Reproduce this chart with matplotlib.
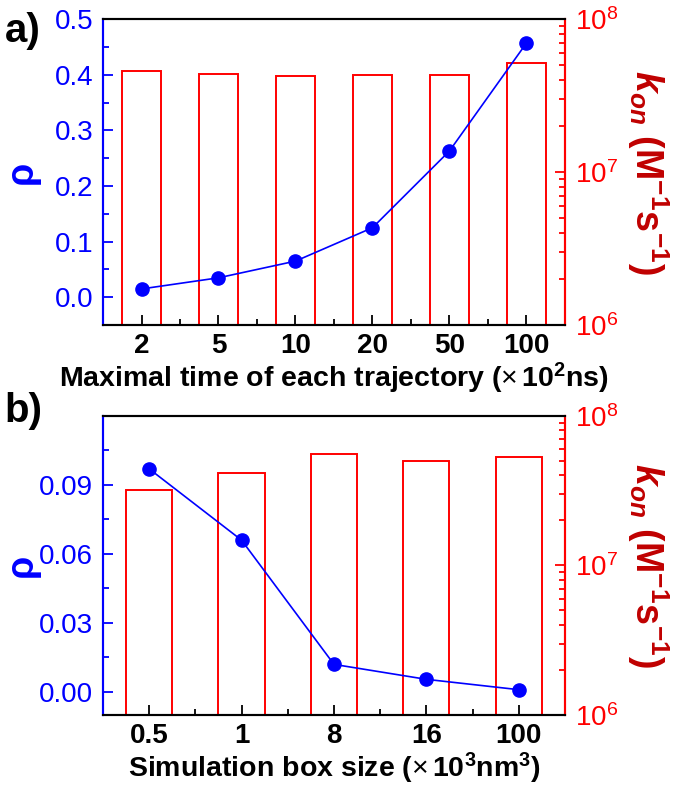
import numpy as np
import matplotlib
matplotlib.use("Agg")
import matplotlib.pyplot as plt
from matplotlib.ticker import MultipleLocator, LogLocator, NullFormatter

plt.rcParams['font.family'] = ['Liberation Sans', 'DejaVu Sans']
plt.rcParams['mathtext.fontset'] = 'custom'
plt.rcParams['mathtext.rm'] = 'Liberation Sans'
plt.rcParams['mathtext.it'] = 'Liberation Sans:italic'
plt.rcParams['mathtext.bf'] = 'Liberation Sans:bold'
plt.rcParams['mathtext.bfit'] = 'Liberation Sans:bold:italic'

BLUE = '#0000FF'
RED = '#FF0000'
DARKRED = '#C00000'

# Panel a: maximal time of each trajectory (x10^2 ns)
time_labels = ['2', '5', '10', '20', '50', '100']
time_p = [0.015, 0.035, 0.065, 0.125, 0.263, 0.457]
time_kon = [4.6e7, 4.38e7, 4.25e7, 4.3e7, 4.3e7, 5.14e7]

# Panel b: simulation box size (x10^3 nm^3)
box_labels = ['0.5', '1', '8', '16', '100']
box_p = [0.097, 0.066, 0.012, 0.0055, 0.001]
box_kon = [3.18e7, 4.15e7, 5.58e7, 5.0e7, 5.33e7]

KON_LABEL = r'$\mathbfit{k}_{\mathbfit{on}}$ (M$^{\mathbf{-1}}$s$^{\mathbf{-1}}$)'


def draw_panel(ax, labels, p, kon, ylim, major, minor, fmt, label_max, xlabel):
    x = np.arange(len(labels))
    ax2 = ax.twinx()
    ax.set_zorder(ax2.get_zorder() + 1)
    ax.patch.set_visible(False)

    # bars on log right axis
    ax2.set_yscale('log')
    ax2.bar(x, np.array(kon) - 1e6, bottom=1e6, width=0.5, facecolor='none',
            edgecolor=RED, linewidth=1.4)
    ax2.set_ylim(1e6, 1e8)
    ax2.yaxis.set_major_locator(LogLocator(base=10, numticks=5))
    ax2.yaxis.set_minor_locator(LogLocator(base=10, subs=np.arange(2, 10), numticks=5))
    ax2.yaxis.set_minor_formatter(NullFormatter())
    ax2.tick_params(axis='y', which='both', direction='in', colors=RED,
                    labelsize=20, width=1.3, pad=7)
    ax2.tick_params(axis='y', which='major', length=7)
    ax2.tick_params(axis='y', which='minor', length=4)
    ax2.set_ylabel(KON_LABEL, color=DARKRED, fontsize=27, fontweight='bold',
                   rotation=270, va='center')
    ax2.yaxis.set_label_coords(1.18, 0.5)

    # p line on left axis
    ax.plot(x, p, color=BLUE, linewidth=1.2, marker='o', markersize=9.5,
            markerfacecolor=BLUE, markeredgecolor=BLUE)
    ax.set_ylim(*ylim)
    ax.set_xlim(-0.5, len(labels) - 0.5)
    ax.yaxis.set_major_locator(MultipleLocator(major))
    ax.yaxis.set_minor_locator(MultipleLocator(minor))
    ax.yaxis.set_major_formatter(plt.FuncFormatter(
        lambda v, _: fmt.format(v) if v <= label_max + 1e-9 else ''))
    ax.tick_params(axis='y', which='both', direction='in', colors=BLUE,
                   labelsize=20, width=1.3, pad=7)
    ax.tick_params(axis='y', which='major', length=7)
    ax.tick_params(axis='y', which='minor', length=4)
    ax.set_ylabel('ρ', color=BLUE, fontsize=27, fontweight='bold', va='center')
    ax.yaxis.set_label_coords(-0.176, 0.5)

    ax.set_xticks(x)
    ax.set_xticklabels(labels, fontweight='bold', fontsize=20)
    ax.set_xticks(x[:-1] + 0.5, minor=True)
    ax.tick_params(axis='x', which='both', direction='in', width=1.3, pad=6)
    ax.tick_params(axis='x', which='major', length=7)
    ax.tick_params(axis='x', which='minor', length=4)
    ax.set_xlabel(xlabel, fontsize=20.5, fontweight='bold', labelpad=1)

    for a in (ax, ax2):
        for s in a.spines.values():
            s.set_linewidth(1.5)
        a.spines['left'].set_color(BLUE)
        a.spines['right'].set_color(RED)
        a.spines['top'].set_color('black')
        a.spines['bottom'].set_color('black')


fig = plt.figure(figsize=(6.75, 7.91), dpi=100)
ax_a = fig.add_axes([0.1526, 0.589, 0.6844, 0.3869])
ax_b = fig.add_axes([0.1526, 0.0961, 0.6844, 0.378])

draw_panel(ax_a, time_labels, time_p, time_kon, (-0.05, 0.5), 0.1, 0.05, '{:.1f}', 0.5,
           r'Maximal time of each trajectory ($\times\,$10$^{\mathbf{2}}$ns)')
draw_panel(ax_b, box_labels, box_p, box_kon, (-0.01, 0.12), 0.03, 0.015, '{:.2f}', 0.09,
           r'Simulation box size ($\times\,$10$^{\mathbf{3}}$nm$^{\mathbf{3}}$)')

fig.text(0.007, 0.985, 'a)', fontsize=29, fontweight='bold', va='top')
fig.text(0.007, 0.505, 'b)', fontsize=29, fontweight='bold', va='top')

fig.savefig('out.png', dpi=100, facecolor='white')
